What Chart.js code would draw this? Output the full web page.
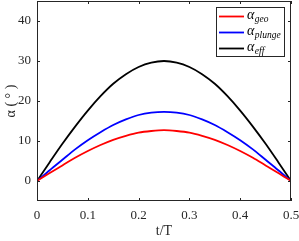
<!DOCTYPE html>
<html>
<head>
<meta charset="utf-8">
<script src="https://cdn.jsdelivr.net/npm/chart.js@4.4.0/dist/chart.umd.min.js"></script>
<style>
  html, body { margin: 0; padding: 0; background: #fff; }
  #wrap { width: 299px; height: 241px; }
</style>
</head>
<body>
<div id="wrap"><canvas id="alphaChart"></canvas></div>
<script>
// values
const tValues = [0, 0.025, 0.05, 0.075, 0.1, 0.125, 0.15, 0.175, 0.2, 0.225, 0.25,
                 0.275, 0.3, 0.325, 0.35, 0.375, 0.4, 0.425, 0.45, 0.475, 0.5];
const alphaGeo = [0, 2.0, 3.9, 5.8, 7.5, 9.0, 10.3, 11.3, 12.1, 12.5, 12.7,
                  12.5, 12.1, 11.3, 10.3, 9.0, 7.5, 5.8, 3.9, 2.0, 0];
const alphaPlunge = [0, 2.7, 5.3, 7.9, 10.2, 12.2, 14.0, 15.4, 16.5, 17.1, 17.3,
                     17.1, 16.5, 15.4, 14.0, 12.2, 10.2, 7.9, 5.3, 2.7, 0];
const alphaEff = [0, 4.7, 9.3, 13.6, 17.6, 21.2, 24.3, 26.7, 28.5, 29.6, 30.0,
                  29.6, 28.5, 26.7, 24.3, 21.2, 17.6, 13.6, 9.3, 4.7, 0];
const seriesSubs = ["geo", "plunge", "eff"];
const seriesColors = ["#ff0000", "#0000ff", "#000000"];
const xTicks = [0, 0.1, 0.2, 0.3, 0.4, 0.5];
const yTicks = [0, 10, 20, 30, 40];

const toPoints = (ys) => tValues.map((t, i) => ({ x: t, y: ys[i] }));
const axisColor = "#262626";
const serif = "'Liberation Serif', 'DejaVu Serif', serif";

// MATLAB-like box with inward ticks and a legend with subscripts
const boxPlugin = {
    id: "boxPlugin",
    afterDatasetsDraw(chart) {
        const { ctx, chartArea: a, scales } = chart;
        ctx.save();
        ctx.strokeStyle = axisColor;
        ctx.lineWidth = 1;
        ctx.beginPath();
        scales.x.ticks.forEach((tk) => {
            const px = Math.round(scales.x.getPixelForValue(tk.value)) + 0.5;
            ctx.moveTo(px, a.bottom); ctx.lineTo(px, a.bottom - 3);
            ctx.moveTo(px, a.top); ctx.lineTo(px, a.top + 3);
        });
        scales.y.ticks.forEach((tk) => {
            const py = Math.round(scales.y.getPixelForValue(tk.value)) + 0.5;
            ctx.moveTo(a.left, py); ctx.lineTo(a.left + 3, py);
            ctx.moveTo(a.right, py); ctx.lineTo(a.right - 3, py);
        });
        ctx.stroke();
        ctx.strokeRect(Math.round(a.left) + 0.5, Math.round(a.top) + 0.5,
                       Math.round(a.right - a.left) - 1, Math.round(a.bottom - a.top) - 1);

        // legend
        const bx = Math.round(a.right) - 75, by = Math.round(a.top) + 6, bw = 68, bh = 49;
        ctx.fillStyle = "#fff";
        ctx.fillRect(bx, by, bw, bh);
        ctx.strokeRect(bx + 0.5, by + 0.5, bw, bh);
        chart.data.datasets.forEach((ds, i) => {
            const ry = by + 9.5 + i * 16;
            ctx.strokeStyle = ds.borderColor;
            ctx.lineWidth = 1.8;
            ctx.beginPath();
            ctx.moveTo(bx + 3, ry); ctx.lineTo(bx + 28, ry);
            ctx.stroke();
            ctx.fillStyle = "#000";
            ctx.textBaseline = "middle";
            ctx.textAlign = "left";
            ctx.font = "italic 14px " + serif;
            ctx.fillText("\u03b1", bx + 31, ry - 1);
            const w = ctx.measureText("\u03b1").width;
            ctx.font = "italic 9.5px " + serif;
            ctx.fillText(seriesSubs[i], bx + 31 + w + 0.5, ry + 2.5);
        });
        ctx.restore();
    }
};

new Chart(document.getElementById("alphaChart"), {
    type: "line",
    data: {
        datasets: seriesSubs.map((s, i) => ({
            label: "\u03b1_" + s,
            data: toPoints([alphaGeo, alphaPlunge, alphaEff][i]),
            borderColor: seriesColors[i],
            borderWidth: 1.8,
            pointRadius: 0,
            cubicInterpolationMode: "monotone",
            fill: false,
        })),
    },
    options: {
        responsive: true,
        maintainAspectRatio: false,
        animation: false,
        layout: { padding: { left: 0, right: 8, top: 1, bottom: 0 } },
        plugins: { legend: { display: false }, tooltip: { enabled: false } },
        scales: {
            x: {
                type: "linear",
                min: 0,
                max: 0.5,
                afterBuildTicks: (s) => { s.ticks = xTicks.map((v) => ({ value: v })); },
                afterFit: (s) => { s.height = 40; s.paddingLeft = 0; s.paddingRight = 0; },
                grid: { display: false, drawTicks: false },
                border: { display: false },
                ticks: {
                    padding: 7,
                    color: axisColor,
                    maxRotation: 0,
                    font: { family: serif, size: 13 },
                    callback: (v) => String(v),
                },
                title: {
                    display: true,
                    text: "t/T",
                    color: axisColor,
                    font: { family: serif, size: 14 },
                    padding: { top: 0, bottom: 1 },
                },
            },
            y: {
                min: -5,
                max: 45,
                afterBuildTicks: (s) => { s.ticks = yTicks.map((v) => ({ value: v })); },
                afterFit: (s) => { s.width = 37; s.paddingTop = 0; s.paddingBottom = 0; },
                grid: { display: false, drawTicks: false },
                border: { display: false },
                ticks: {
                    padding: 6,
                    color: axisColor,
                    font: { family: serif, size: 13 },
                },
                title: {
                    display: true,
                    text: "\u03b1 ( \u00b0 )",
                    color: axisColor,
                    font: { family: serif, size: 14 },
                    padding: { top: 3, bottom: 0 },
                },
            },
        },
    },
    plugins: [boxPlugin],
});
</script>
</body>
</html>
